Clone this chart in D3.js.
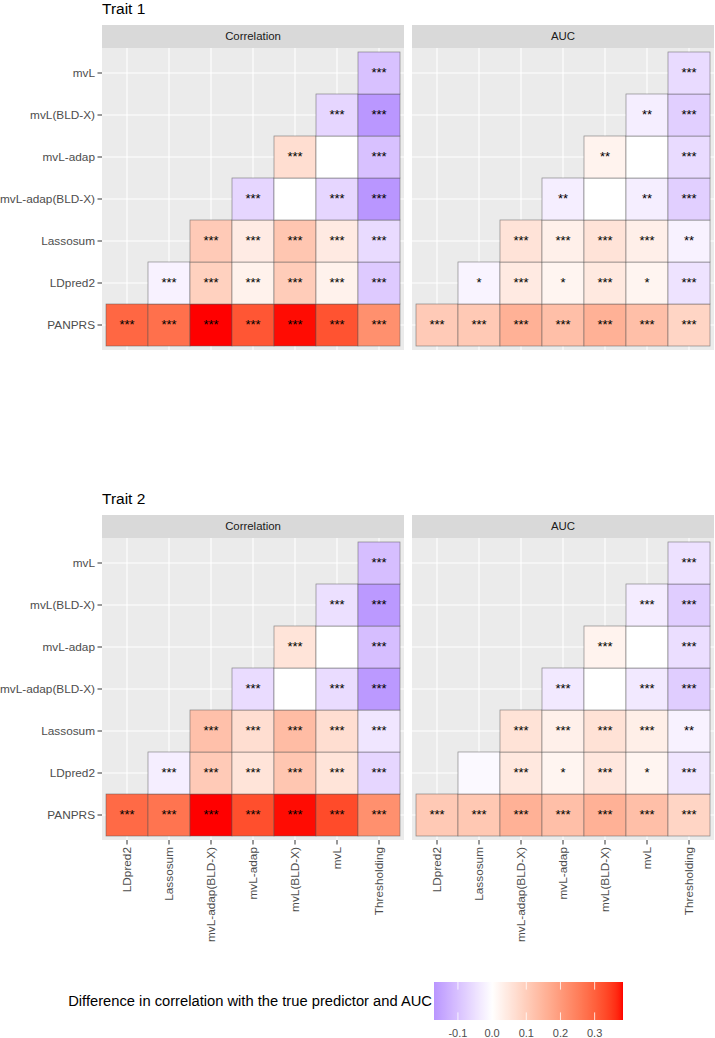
<!DOCTYPE html>
<html><head><meta charset="utf-8">
<script src="https://cdn.jsdelivr.net/npm/d3@7"></script>
<style>html,body{margin:0;padding:0;background:#fff;} svg{display:block;font-family:"Liberation Sans",Arial,sans-serif;}</style>
</head><body>
<script>
// ---------- data ----------
const methodsX = ["LDpred2","Lassosum","mvL-adap(BLD-X)","mvL-adap","mvL(BLD-X)","mvL","Thresholding"];
const methodsY = ["PANPRS","LDpred2","Lassosum","mvL-adap(BLD-X)","mvL-adap","mvL(BLD-X)","mvL"]; // bottom -> top
const traits = ["Trait 1","Trait 2"];
const metrics = ["Correlation","AUC"];
const N = null;

const t1Corr = [
  [0.290, 0.275, 0.383, 0.315, 0.380, 0.320, 0.220],
  [N, -0.020, 0.094, 0.027, 0.103, 0.027, -0.085],
  [N, N, 0.107, 0.040, 0.115, 0.042, -0.058],
  [N, N, N, -0.065, 0.000, -0.065, -0.170],
  [N, N, N, N, 0.068, 0.000, -0.100],
  [N, N, N, N, N, -0.065, -0.168],
  [N, N, N, N, N, N, -0.100]
];
const t1CorrSig = [
  ["***","***","***","***","***","***","***"],
  [N,"***","***","***","***","***","***"],
  [N,N,"***","***","***","***","***"],
  [N,N,N,"***","","***","***"],
  [N,N,N,N,"***","","***"],
  [N,N,N,N,N,"***","***"],
  [N,N,N,N,N,N,"***"]
];
const t1Auc = [
  [0.107, 0.110, 0.157, 0.130, 0.157, 0.130, 0.085],
  [N, -0.017, 0.042, 0.020, 0.045, 0.020, -0.045],
  [N, N, 0.057, 0.030, 0.057, 0.032, -0.020],
  [N, N, N, -0.027, 0.000, -0.027, -0.077],
  [N, N, N, N, 0.025, 0.000, -0.058],
  [N, N, N, N, N, -0.027, -0.077],
  [N, N, N, N, N, N, -0.058]
];
const t1AucSig = [
  ["***","***","***","***","***","***","***"],
  [N,"*","***","*","***","*","***"],
  [N,N,"***","***","***","***","**"],
  [N,N,N,"**","","**","***"],
  [N,N,N,N,"**","","***"],
  [N,N,N,N,N,"**","***"],
  [N,N,N,N,N,N,"***"]
];
const t2Corr = [
  [0.285, 0.270, 0.383, 0.325, 0.380, 0.330, 0.220],
  [N, -0.027, 0.107, 0.055, 0.115, 0.055, -0.065],
  [N, N, 0.127, 0.068, 0.135, 0.068, -0.040],
  [N, N, N, -0.055, 0.000, -0.055, -0.165],
  [N, N, N, N, 0.055, 0.000, -0.105],
  [N, N, N, N, N, -0.050, -0.165],
  [N, N, N, N, N, N, -0.105]
];
const t2CorrSig = t1CorrSig;
const t2Auc = [
  [0.110, 0.112, 0.157, 0.130, 0.157, 0.130, 0.085],
  [N, -0.010, 0.047, 0.020, 0.048, 0.020, -0.040],
  [N, N, 0.058, 0.030, 0.060, 0.033, -0.020],
  [N, N, N, -0.035, 0.000, -0.035, -0.080],
  [N, N, N, N, 0.025, 0.000, -0.052],
  [N, N, N, N, N, -0.030, -0.080],
  [N, N, N, N, N, N, -0.048]
];
const t2AucSig = [
  ["***","***","***","***","***","***","***"],
  [N,"","***","*","***","*","***"],
  [N,N,"***","***","***","***","**"],
  [N,N,N,"***","","***","***"],
  [N,N,N,N,"***","","***"],
  [N,N,N,N,N,"***","***"],
  [N,N,N,N,N,N,"***"]
];
const legendTitle = "Difference in correlation with the true predictor and AUC";
const legendTicks = [-0.1, 0.0, 0.1, 0.2, 0.3];
const legendTickLabels = ["-0.1", "0.0", "0.1", "0.2", "0.3"];

const panels = [
  {trait:0, metric:0, vals:t1Corr, sig:t1CorrSig},
  {trait:0, metric:1, vals:t1Auc, sig:t1AucSig},
  {trait:1, metric:0, vals:t2Corr, sig:t2CorrSig},
  {trait:1, metric:1, vals:t2Auc, sig:t2AucSig}
];

// ---------- colour scale (gradient2: blue - white - red, midpoint 0, Lab) ----------
const allVals = panels.flatMap(p => p.vals.flat().filter(v => v !== null));
const vMin = d3.min(allVals), vMax = d3.max(allVals);
const maxAbs = d3.max(allVals, v => Math.abs(v));
const toRed = d3.interpolateLab("#ffffff", "#ff0000");
const toBlue = d3.interpolateLab("#ffffff", "#0000ff");
const fillOf = v => v >= 0 ? toRed(v / maxAbs) : toBlue(-v / maxAbs);

// ---------- layout ----------
const W = 715, H = 1038;
const svg = d3.select("body").append("svg").attr("width", W).attr("height", H);
const panelX = [[102, 404], [412, 714]];
const figOffset = [0, 490];
const stripTop = 25, stripBot = 48, panelBot = 350, inset = 4;
const grey30 = "#4d4d4d";

traits.forEach((tr, ti) => {
  const oy = figOffset[ti];
  svg.append("text").attr("x", 102).attr("y", 14 + oy)
    .attr("font-size", 15.5).attr("fill", "#000").text(tr);

  const y = d3.scaleBand().domain(methodsY.slice().reverse())
    .range([stripBot + oy + inset, panelBot + oy - inset]);

  metrics.forEach((m, mi) => {
    const p = panels.find(q => q.trait === ti && q.metric === mi);
    const [x0, x1] = panelX[mi];
    const x = d3.scaleBand().domain(methodsX).range([x0 + inset, x1 - inset]);
    const g = svg.append("g");
    // strip
    g.append("rect").attr("x", x0).attr("y", stripTop + oy).attr("width", x1 - x0)
      .attr("height", stripBot - stripTop).attr("fill", "#d9d9d9");
    g.append("text").attr("x", (x0 + x1) / 2).attr("y", (stripTop + stripBot) / 2 + oy)
      .attr("dy", "0.35em").attr("text-anchor", "middle").attr("font-size", 11.4)
      .attr("fill", "#1a1a1a").text(m);
    // panel
    g.append("rect").attr("x", x0).attr("y", stripBot + oy).attr("width", x1 - x0)
      .attr("height", panelBot - stripBot).attr("fill", "#ebebeb");
    // grid
    g.selectAll(".gx").data(methodsX).enter().append("line")
      .attr("x1", d => x(d) + x.bandwidth() / 2).attr("x2", d => x(d) + x.bandwidth() / 2)
      .attr("y1", stripBot + oy).attr("y2", panelBot + oy)
      .attr("stroke", "#fff").attr("stroke-width", 1.1);
    g.selectAll(".gy").data(methodsY).enter().append("line")
      .attr("y1", d => y(d) + y.bandwidth() / 2).attr("y2", d => y(d) + y.bandwidth() / 2)
      .attr("x1", x0).attr("x2", x1)
      .attr("stroke", "#fff").attr("stroke-width", 1.1);
    // tiles
    const cells = [];
    p.vals.forEach((row, ri) => row.forEach((v, ci) => {
      if (v !== null) cells.push({r: methodsY[ri], c: methodsX[ci], v, s: p.sig[ri][ci]});
    }));
    g.selectAll(".tile").data(cells).enter().append("rect")
      .attr("x", d => x(d.c)).attr("y", d => y(d.r))
      .attr("width", x.bandwidth()).attr("height", y.bandwidth())
      .attr("fill", d => fillOf(d.v))
      .attr("stroke", "#555").attr("stroke-opacity", 0.65).attr("stroke-width", 0.7);
    g.selectAll(".lab").data(cells).enter().append("text")
      .attr("x", d => x(d.c) + x.bandwidth() / 2).attr("y", d => y(d.r) + y.bandwidth() / 2 + 4)
      .attr("text-anchor", "middle").attr("font-size", 13).attr("fill", "#000")
      .text(d => d.s);

    // y axis (left panels only)
    if (mi === 0) {
      methodsY.forEach(d => {
        const cy = y(d) + y.bandwidth() / 2;
        g.append("line").attr("x1", x0 - 4.5).attr("x2", x0).attr("y1", cy).attr("y2", cy)
          .attr("stroke", "#333").attr("stroke-width", 1);
        g.append("text").attr("x", x0 - 7).attr("y", cy).attr("dy", "0.35em")
          .attr("text-anchor", "end").attr("font-size", 11.8).attr("fill", grey30).text(d);
      });
    }
    // x axis (bottom figure only)
    if (ti === 1) {
      methodsX.forEach(d => {
        const cx = x(d) + x.bandwidth() / 2;
        g.append("line").attr("x1", cx).attr("x2", cx).attr("y1", panelBot + oy).attr("y2", panelBot + oy + 4.5)
          .attr("stroke", "#333").attr("stroke-width", 1);
        g.append("text").attr("transform", `translate(${cx},${panelBot + oy + 7}) rotate(-90)`)
          .attr("dy", "0.35em").attr("text-anchor", "end").attr("font-size", 11.8)
          .attr("fill", grey30).text(d);
      });
    }
  });
});

// ---------- legend ----------
const lx = d3.scaleLinear().domain([vMin, vMax]).range([434, 623]);
const barY0 = 982, barY1 = 1020;
const defs = svg.append("defs");
const grad = defs.append("linearGradient").attr("id", "lg").attr("x1", "0%").attr("x2", "100%");
d3.range(0, 1.0001, 0.01).forEach(t => {
  const v = vMin + t * (vMax - vMin);
  grad.append("stop").attr("offset", (t * 100) + "%").attr("stop-color", fillOf(v));
});
svg.append("rect").attr("x", lx(vMin)).attr("y", barY0).attr("width", lx(vMax) - lx(vMin))
  .attr("height", barY1 - barY0).attr("fill", "url(#lg)");
legendTicks.forEach((t, i) => {
  svg.append("line").attr("x1", lx(t)).attr("x2", lx(t)).attr("y1", barY0).attr("y2", barY0 + 7.6)
    .attr("stroke", "#fff").attr("stroke-width", 0.8);
  svg.append("line").attr("x1", lx(t)).attr("x2", lx(t)).attr("y1", barY1 - 7.6).attr("y2", barY1)
    .attr("stroke", "#fff").attr("stroke-width", 0.8);
  svg.append("text").attr("x", lx(t)).attr("y", 1033).attr("dy", "0.35em")
    .attr("text-anchor", "middle").attr("font-size", 11).attr("fill", grey30)
    .text(legendTickLabels[i]);
});
const lt = svg.append("text").attr("x", 432).attr("y", (barY0 + barY1) / 2).attr("dy", "0.35em")
  .attr("text-anchor", "end").attr("font-size", 13).attr("fill", "#000").text(legendTitle);
const w = lt.node().getComputedTextLength();
lt.attr("font-size", 13 * 364 / w);
</script>
</body></html>
